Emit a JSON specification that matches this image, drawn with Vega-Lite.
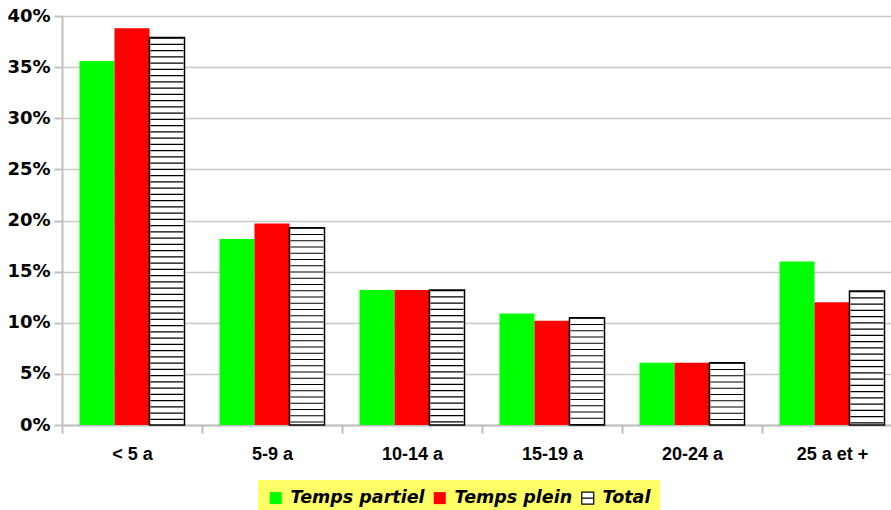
{
  "$schema": "https://vega.github.io/schema/vega-lite/v6.json",
  "autosize": "none",
  "width": 829,
  "height": 409,
  "padding": {"left": 62, "top": 16, "right": 0, "bottom": 85},
  "background": "white",
  "config": {"view": {"stroke": null}},
  "data": {"values": [
    {"cat": "< 5 a", "serie": "Temps partiel", "v": 0.356},
    {"cat": "< 5 a", "serie": "Temps plein", "v": 0.388},
    {"cat": "< 5 a", "serie": "Total", "v": 0.379},
    {"cat": "5-9 a", "serie": "Temps partiel", "v": 0.182},
    {"cat": "5-9 a", "serie": "Temps plein", "v": 0.197},
    {"cat": "5-9 a", "serie": "Total", "v": 0.193},
    {"cat": "10-14 a", "serie": "Temps partiel", "v": 0.132},
    {"cat": "10-14 a", "serie": "Temps plein", "v": 0.132},
    {"cat": "10-14 a", "serie": "Total", "v": 0.132},
    {"cat": "15-19 a", "serie": "Temps partiel", "v": 0.109},
    {"cat": "15-19 a", "serie": "Temps plein", "v": 0.102},
    {"cat": "15-19 a", "serie": "Total", "v": 0.105},
    {"cat": "20-24 a", "serie": "Temps partiel", "v": 0.061},
    {"cat": "20-24 a", "serie": "Temps plein", "v": 0.061},
    {"cat": "20-24 a", "serie": "Total", "v": 0.061},
    {"cat": "25 a et +", "serie": "Temps partiel", "v": 0.160},
    {"cat": "25 a et +", "serie": "Temps plein", "v": 0.120},
    {"cat": "25 a et +", "serie": "Total", "v": 0.131}
  ]},
  "encoding": {
    "x": {
      "field": "cat", "type": "nominal", "sort": null,
      "scale": {"range": [0, 840], "paddingInner": 0, "paddingOuter": 0},
      "axis": {
        "title": null, "labelAngle": 0, "tickBand": "extent",
        "labelFont": "Liberation Sans", "labelFontWeight": "bold", "labelFontSize": 18, "labelColor": "black",
        "labelPadding": 12, "tickSize": 8, "tickColor": "#c0c0c0", "tickWidth": 2,
        "domainColor": "#c0c0c0", "domainWidth": 2, "grid": false
      }
    },
    "xOffset": {
      "field": "serie", "type": "nominal",
      "scale": {"domain": ["Temps partiel", "Temps plein", "Total"], "paddingInner": 0, "paddingOuter": 0.5}
    },
    "y": {
      "field": "v", "type": "quantitative",
      "scale": {"domain": [0, 0.4], "nice": false},
      "axis": {
        "title": null, "format": ".0%", "values": [0, 0.05, 0.1, 0.15, 0.2, 0.25, 0.3, 0.35, 0.4],
        "labelFont": "DejaVu Sans", "labelFontWeight": "bold", "labelFontSize": 18, "labelColor": "black",
        "labelPadding": 4, "tickSize": 8, "tickColor": "#c0c0c0", "tickWidth": 2,
        "domainColor": "#c0c0c0", "domainWidth": 2,
        "grid": true, "gridColor": "#c8c8c8", "gridWidth": 1.5
      }
    }
  },
  "layer": [
    {
      "mark": {"type": "bar", "strokeWidth": 0},
      "encoding": {
        "fill": {
          "field": "serie", "type": "nominal",
          "scale": {"domain": ["Temps partiel", "Temps plein", "Total"], "range": ["#00ff00", "#ff0000", "#ffffff"]},
          "legend": {
            "title": null, "orient": "none", "legendX": 196, "legendY": 464, "direction": "horizontal",
            "fillColor": "#ffff66", "padding": 9, "symbolType": "square", "symbolSize": 144,
            "symbolStrokeWidth": 0, "labelOffset": 6, "columnPadding": 6,
            "labelFont": "DejaVu Sans", "labelFontWeight": "bold", "labelFontStyle": "italic",
            "labelFontSize": 17.5, "labelColor": "black",
            "encode": {
              "symbols": {
                "update": {
                  "shape": {"signal": "datum.value === 'Total' ? 'M-1,-1H1V1H-1Z M-1,0H1' : 'square'"},
                  "stroke": {"signal": "datum.value === 'Total' ? 'black' : 'transparent'"},
                  "strokeWidth": {"value": 1.2}
                }
              }
            }
          }
        }
      }
    },
    {
      "transform": [{"filter": "datum.serie === 'Total'"}],
      "mark": {"type": "rule", "color": "black", "strokeWidth": 33, "strokeDash": [1.2, 5.05], "strokeCap": "butt"},
      "encoding": {"y2": {"datum": 0}}
    },
    {
      "transform": [{"filter": "datum.serie === 'Total'"}],
      "mark": {"type": "bar", "fill": "transparent", "stroke": "black", "strokeWidth": 1.5},
      "encoding": {}
    }
  ]
}
